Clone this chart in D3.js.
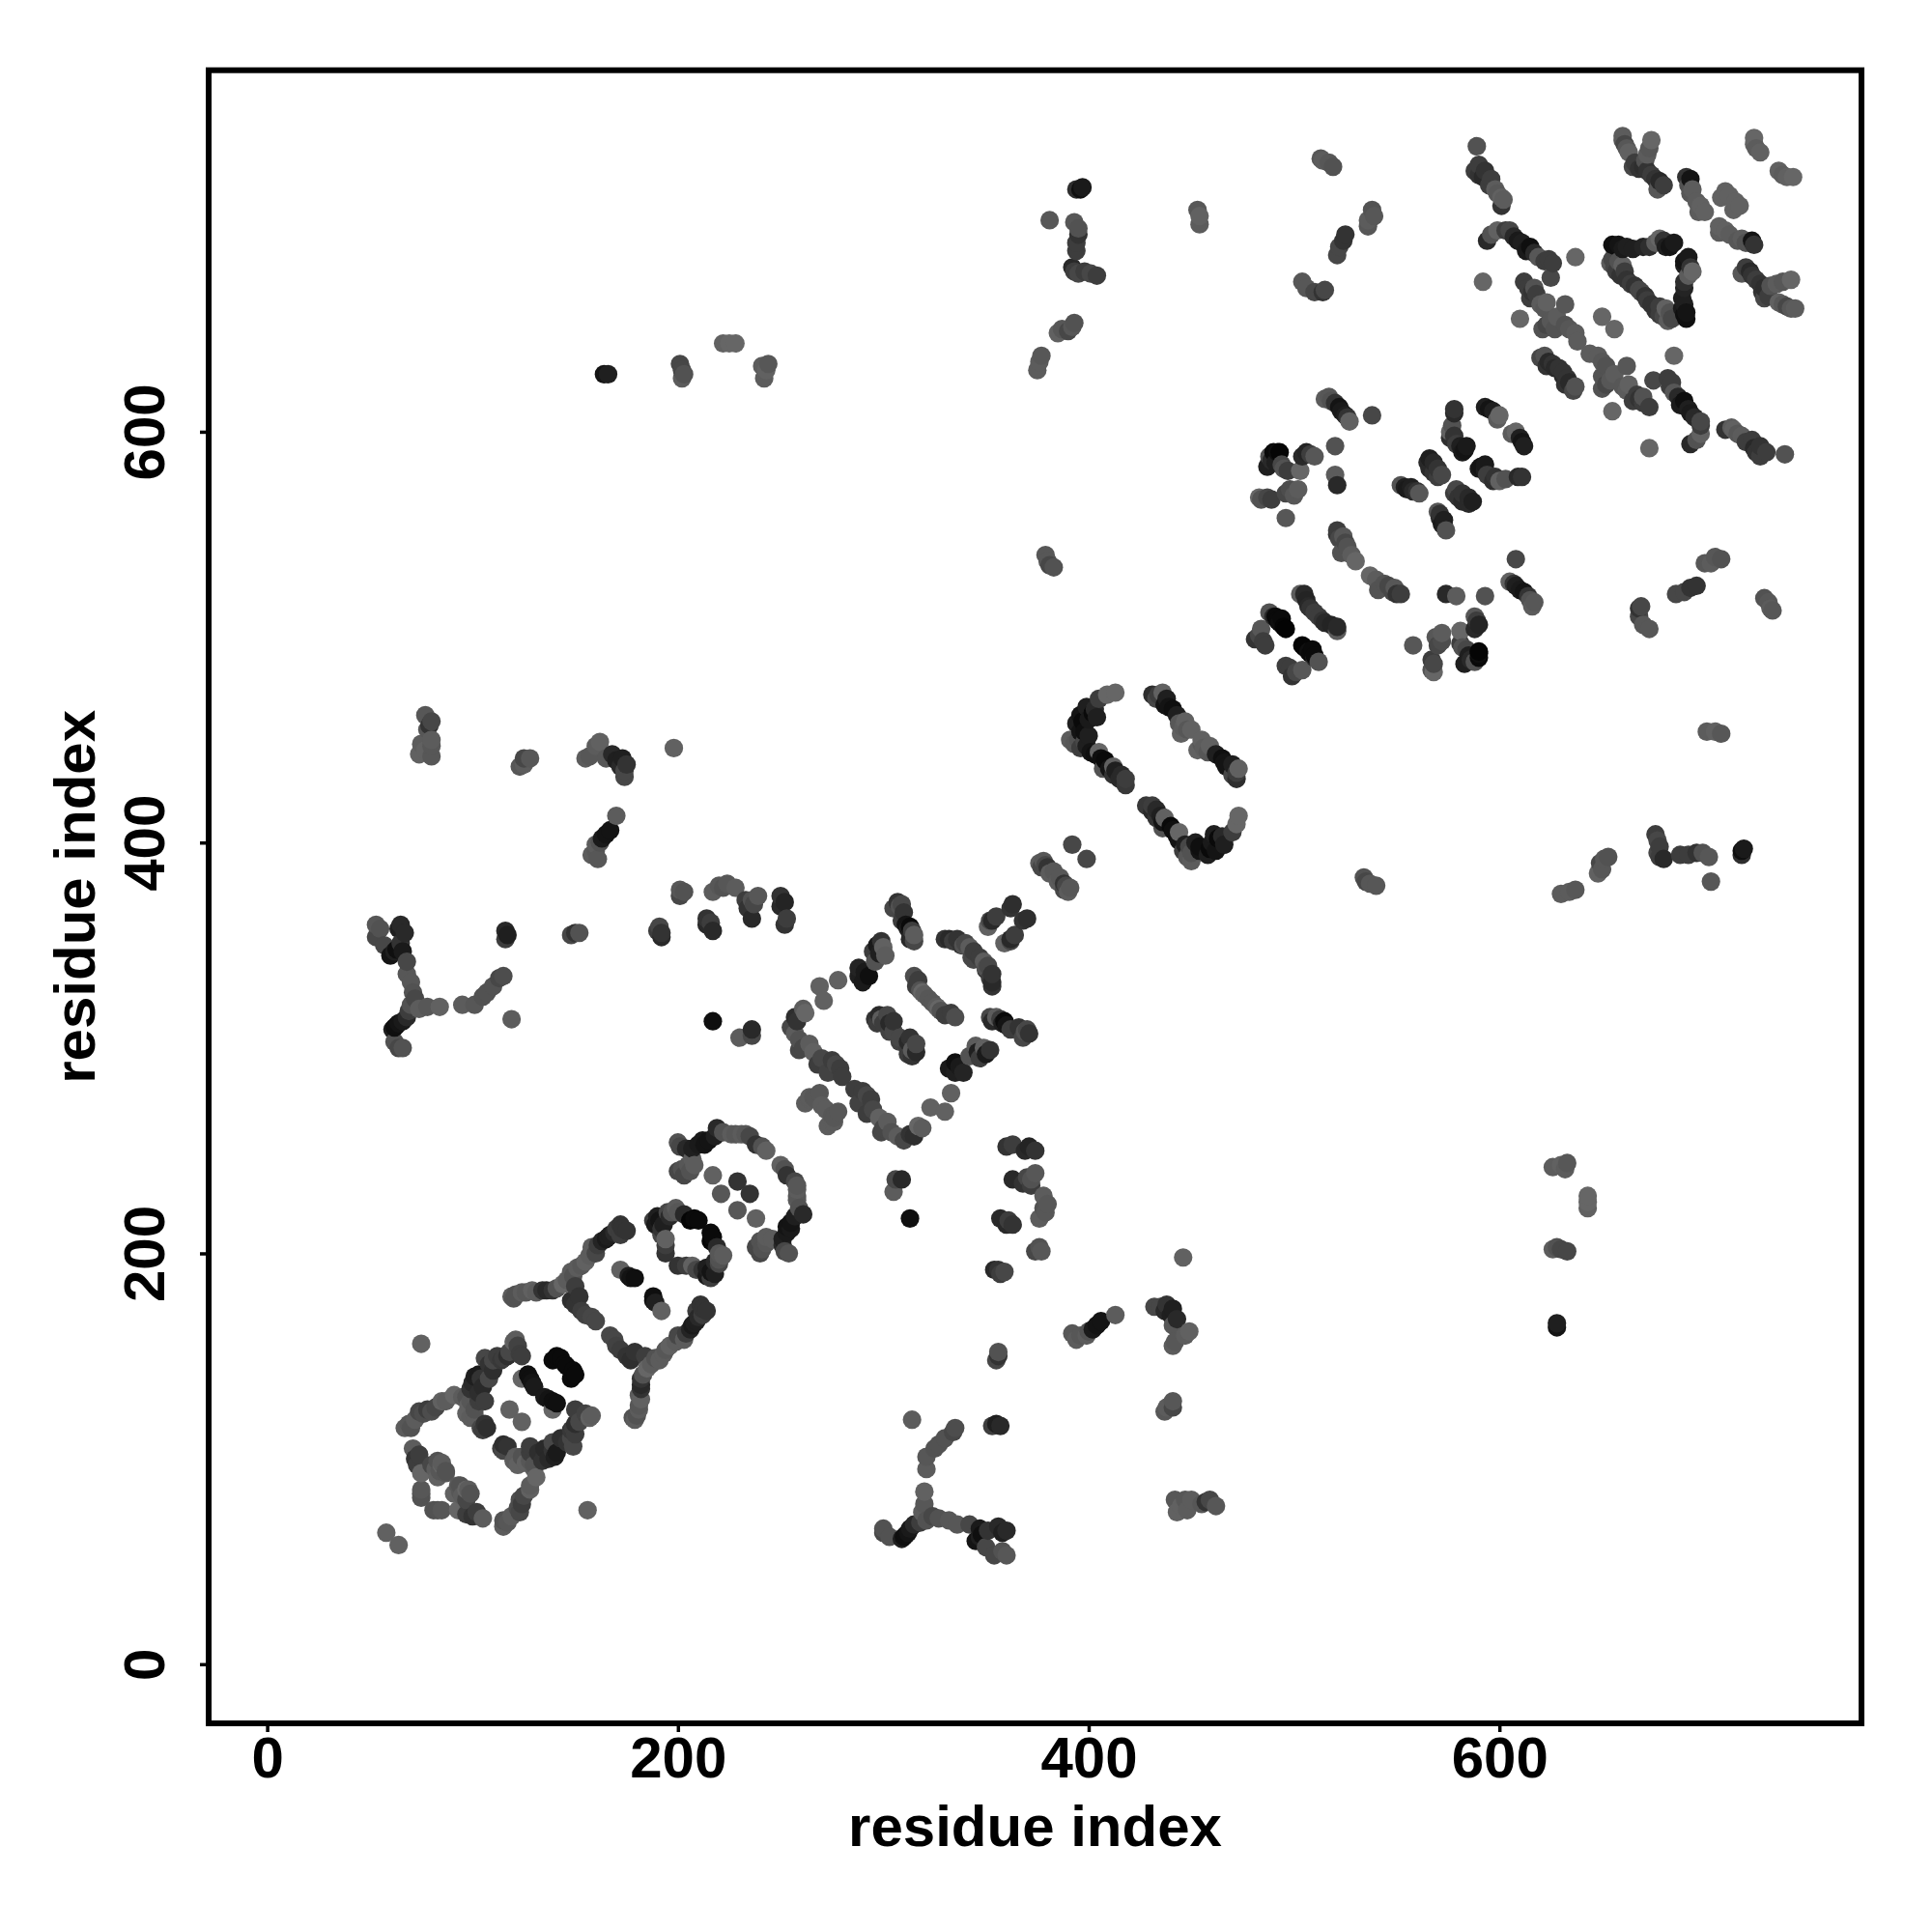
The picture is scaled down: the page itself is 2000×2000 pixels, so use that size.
<!DOCTYPE html>
<html>
<head>
<meta charset="utf-8">
<script src="https://cdn.jsdelivr.net/npm/d3@7/dist/d3.min.js"></script>
<style>html,body{margin:0;padding:0;background:#fff}svg{display:block}</style>
</head>
<body>
<div id="chart"></div>
<script>
// Each contact: [residue i, residue j, level]. Level 0 = darkest, 100 = lightest. The map is symmetric.
const axisTicks = [0, 200, 400, 600];
const axisTitle = "residue index";
const clusterA = [[67,115,90],[69,117,85],[72,119,90],[74,123,70],[78,124,60],[82,125,70],[85,128,95],[91,131,100],[97,130,80],[100,137,40],[104,139,50],[108,139,70],[106,149,70],[115,149,60],[120,157,95],[123,151,60],[124,150,60],[114,148,55],[98,126,95],[101,124,80],[97,122,95],[103,132,45],[110,143,45],[117,150,45],[75,156,95],
[70,115,80],[76,122,75],[80,123,75],[87,128,90],[95,130,90],[99,134,50],[101,140,30],[103,141,25],[105,135,40],[108,146,50],[110,148,70],[112,150,60],[118,152,70],[122,155,65],[121,158,90],[99,128,85],[99,120,90],[103,128,60],[101,121,90],[106,128,60]];
const clusterB = [[71,105,90],[72,100,50],[75,93,100],[82,95,90],[85,98,90],[87,94,80],[75,83,80],[75,81,80],[75,85,85],[93,87,85],[97,85,100],[91,83,95],[104,115,70],[107,115,45],[118,124,95],[129,137,20],[128,139,15],[124,139,100],[143,149,10],[139,148,10],[58,64,95],
[74,102,60],[73,97,60],[84,94,85],[83,99,80],[80,97,70],[105,114,60],[106,117,50],[127,141,15],[130,135,25],[141,150,10],[145,146,10]];
const clusterC = [[119,179,90],[120,178,80],[124,181,90],[129,182,95],[136,182,40],[139,182,50],[144,185,100],[148,191,90],[151,193,90],[155,196,95],[157,199,90],[158,203,90],[163,206,35],[165,207,25],[167,209,30],[170,212,60],[172,214,50],[175,211,50],[152,179,50],[153,172,60],[158,169,70],[150,184,60],[148,177,45],[172,192,95],[176,189,30],[179,188,15],
[121,180,80],[126,181,85],[131,181,90],[134,182,50],[141,183,80],[146,187,90],[149,189,80],[153,194,85],[160,200,70],[161,204,60],[166,208,30],[169,210,40],[172,209,60],[173,212,50],[177,188,20],[150,175,50],[155,170,65],[160,167,70]];
const clusterD = [[200,254,80],[207,251,30],[210,253,25],[213,253,20],[215,255,20],[218,257,30],[219,261,40],[226,258,90],[231,258,90],[235,257,70],[238,253,50],[243,250,95],[202,241,80],[205,243,85],[207,246,90],[203,238,70],[217,238,95],[221,229,85],[229,235,50],[189,214,25],[191,216,20],[195,220,70],[197,220,80],[200,220,85],[206,216,5],[210,216,10],[194,207,95],[194,200,50],[192,212,50],[264,276,90],[266,276,85],
[201,252,70],[204,251,40],[212,255,25],[222,259,80],[228,258,85],[233,258,85],[241,252,80],[200,240,70],[208,243,90],[206,240,80],[190,218,30],[193,214,30],[188,216,60],[192,209,70],[194,204,60],[199,222,90],[203,219,40],[208,217,10],[196,218,40]];
const clusterE = [[257,315,45],[262,317,100],[261,319,90],[271,323,95],[269,330,95],[278,333,95],[288,335,30],[290,332,25],[293,335,15],[296,342,80],[300,349,95],[297,350,25],[308,369,80],[310,366,50],[313,359,10],[315,355,90],[314,357,60],[257,307,90],[259,299,70],[266,298,95],[268,292,60],[277,292,70],[280,286,60],[275,294,60],[296,314,50],[299,314,90],[303,312,40],[302,316,70],[315,335,75],[316,330,60],[319,327,100],[320,326,90],[264,275,90],[267,275,85],[332,353,40],[336,353,50],[339,350,80],[342,349,90],[353,362,40],[351,359,95],[363,370,45],[378,391,85],[380,388,50],[379,389,70],[392,399,70],
[288,339,35],[291,337,25],[295,347,60],[298,346,30],[299,352,50],[301,345,90],[307,371,50],[309,362,60],[311,360,20],[312,358,30],[313,353,40],[315,352,70],[255,310,70],[258,313,50],[259,304,80],[261,300,70],[264,302,90],[270,295,70],[273,288,65],[279,290,60],[262,273,90],[269,278,85],[270,272,90],[297,312,60],[298,316,40],[300,312,60],[305,313,50],[303,308,65],[305,308,70],[317,333,60],[318,328,80],[322,324,85],[330,353,50],[334,352,60],[338,350,50],[340,351,70],[344,347,60],[343,344,70],[305,368,70],[309,370,70],[352,362,70],[355,364,60],[362,368,50],[376,390,90],[377,388,70],[383,386,85],[381,385,90]];
const clusterF = [[413,473,100],[409,472,100],[405,470,60],[399,466,30],[402,463,10],[397,459,10],[394,458,30],[396,454,20],[391,450,90],[398,449,70],[401,444,20],[405,444,100],[408,440,10],[412,437,95],[416,433,40],[418,428,55],[403,465,40],[395,450,80],[407,436,80],[412,433,50],[436,473,95],[431,472,45],[437,467,20],[441,465,15],[447,459,95],[445,453,95],[446,456,90],[450,455,95],
[396,462,20],[400,460,25],[404,461,30],[398,454,15],[400,452,30],[393,448,85],[396,446,60],[399,447,30],[403,443,15],[406,441,15],[410,436,20],[413,435,30],[415,431,40],[418,431,60],[434,472,60],[433,470,70],[439,466,20],[443,462,30],[444,458,85],[448,455,85],[438,470,30]];
const clusterG = [[493,590,5],[492,590,15],[488,588,80],[487,583,30],[495,582,80],[503,581,100],[506,590,35],[510,588,85],[520,593,80],[520,579,90],[521,574,40],[515,616,90],[518,615,80],[522,612,20],[525,608,30],[527,605,95],[538,608,70],[483,568,100],[487,568,70],[496,570,70],[502,572,90],[496,558,85],[521,552,60],[521,550,50],[524,549,85],[526,544,80],[523,541,80],[530,537,100],
[490,590,10],[489,586,40],[491,585,30],[494,584,70],[497,581,60],[504,588,40],[508,589,60],[517,617,85],[520,614,50],[523,610,25],[526,607,50],[484,567,80],[489,567,60],[498,572,75],[500,569,85],[522,548,70],[525,546,70],[528,540,90]];
const clusterH = [[552,574,80],[554,573,30],[557,573,30],[560,571,50],[561,570,85],[565,585,40],[568,585,40],[566,582,40],[572,579,70],[578,611,50],[576,600,95],[576,597,45],[579,594,60],[581,593,30],[583,591,20],[593,612,30],[595,611,20],[600,608,100],[503,521,90],[507,515,40],[508,514,50],[491,510,10],[493,507,15],[496,504,3],[484,504,85],[486,496,60],[481,499,50],[488,512,80],
[555,572,25],[558,571,40],[566,587,30],[570,582,50],[570,578,60],[568,580,50],[578,609,40],[577,603,80],[578,598,50],[582,590,25],[584,593,25],[597,610,30],[599,606,90],[506,518,35],[505,521,40],[510,512,60],[492,508,10],[494,509,10],[495,505,5],[483,501,70],[485,498,60],[490,510,40]];
const clusterI = [[589,739,80],[588,727,60],[590,725,50],[592,724,40],[595,720,60],[598,718,90],[601,714,95],[601,710,50],[594,693,40],[599,698,95],[605,698,70],[611,692,30],[615,690,15],[619,685,85],[624,684,60],[625,675,70],[637,685,100],[592,673,100],[612,673,60],[617,670,80],[615,665,60],[623,663,95],[632,662,85],[610,655,100],[625,654,85],[621,650,80],[632,652,80],[637,648,90],[638,644,90],[650,656,100],[622,637,80],[624,634,40],[626,633,50],
[590,730,60],[593,727,50],[596,723,60],[599,716,85],[602,713,90],[596,696,80],[603,698,60],[607,695,40],[609,693,25],[613,688,25],[617,687,40],[622,683,60],[626,682,60],[614,670,60],[616,668,50],[618,667,60],[620,662,90],[622,660,85],[628,656,90],[623,652,70],[627,650,80],[634,650,85],[620,636,70],[623,632,50],[627,631,40],[629,631,50]];
const clusterJ = [[655,691,15],[658,691,20],[662,690,30],[673,690,45],[678,694,100],[683,690,20],[654,682,90],[660,681,95],[656,680,70],[659,676,50],[664,672,60],[660,744,90],[661,740,70],[663,736,95],[665,729,70],[674,742,100],[671,732,80],[670,729,45],[674,725,60],[678,722,40],[677,718,85],[691,724,50],[693,723,20],[694,718,90],[698,710,95],[697,707,90],[700,707,95],[710,717,95],[724,743,100],[724,740,95],[727,736,95],
[657,690,15],[660,689,25],[665,689,30],[670,690,35],[676,692,90],[680,693,50],[681,690,30],[685,692,25],[655,684,70],[657,678,60],[658,683,80],[661,678,60],[662,674,50],[666,671,50],[668,669,70],[660,742,85],[662,738,85],[666,731,60],[668,728,50],[673,738,85],[672,735,90],[672,727,50],[676,723,50],[680,720,60],[692,720,80],[693,716,85],[696,712,90],[712,715,95],[708,714,95],[725,738,90]];
const offYShape = [[53,360,85],[53,354,70],[65,360,40],[65,351,50],[63,348,15],[68,336,85],[71,327,80],[63,311,15],[61,309,30],[64,300,70],[74,319,90],[84,320,95],[95,321,90],[101,321,85],[107,327,80],[113,334,70],[119,314,90],[70,321,80],[68,315,40],[66,313,25],
[55,358,80],[57,350,70],[60,345,20],[62,347,30],[64,358,30],[67,356,40],[66,347,25],[68,342,70],[70,332,85],[72,324,70],[62,310,15],[64,312,20],[69,318,60],[62,303,80],[66,300,80],[78,320,85],[105,325,80],[110,330,80],[115,335,75]];
const offRowLeft = [[116,357,40],[116,353,60],[150,356,50],[191,359,70],[192,356,50],[201,377,85],[201,374,70],[214,363,50],[217,357,40],[217,376,90],[224,380,85],[228,378,90],[236,363,40],[233,372,60],[239,374,85],[252,371,35],[252,360,50],[217,313,15],[230,305,90],[236,306,70],[236,309,40],
[117,355,30],[148,355,70],[152,356,80],[190,357,60],[192,354,40],[203,376,80],[214,360,40],[216,361,60],[220,379,85],[222,378,80],[234,368,50],[237,370,70],[236,372,80],[250,369,40],[253,363,60],[250,374,50]];
const offRowMid = [[77,462,85],[80,459,70],[80,450,90],[77,445,95],[80,442,85],[74,443,95],[125,441,70],[125,438,90],[128,441,85],[155,441,90],[162,449,95],[168,443,40],[173,441,30],[174,435,70],[198,446,95],[170,413,90],[165,404,20],[160,399,90],[161,392,85],
[78,455,85],[75,448,90],[80,447,85],[79,457,50],[123,437,85],[157,442,85],[160,447,90],[165,441,85],[170,440,30],[172,437,40],[175,438,50],[174,432,70],[163,402,25],[167,406,20],[160,396,85],[158,394,90],[162,400,80]];
const offTop = [[164,628,20],[202,630,70],[202,626,90],[225,643,100],[243,630,95],[242,626,90],[376,634,90],[396,718,15],[394,718,45],[381,703,85],[395,699,80],[394,692,60],[393,678,60],[401,677,70],[385,648,95],[392,651,85],[380,537,85],[381,535,70],[454,705,95],[454,701,90],[514,732,90],[517,731,85],[506,670,85],[515,669,70],[522,690,70],[525,696,50],[536,703,90],[539,705,85],
[166,628,30],[201,633,70],[203,628,80],[222,643,95],[228,643,100],[241,632,90],[244,633,85],[375,630,90],[377,637,85],[397,719,25],[393,702,85],[395,696,50],[394,688,60],[392,680,40],[395,677,70],[398,678,60],[404,676,60],[387,650,85],[390,649,70],[393,653,80],[379,540,85],[383,534,80],[453,708,85],[514,668,50],[510,668,70],[504,673,85],[513,733,85],[519,729,80],[536,700,85],[538,708,80],[524,693,50],[521,686,70]];

const contacts = [clusterA,clusterB,clusterC,clusterD,clusterE,clusterF,clusterG,clusterH,clusterI,clusterJ,offYShape,offRowLeft,offRowMid,offTop].flat();
const points = contacts.flatMap(([i,j,level]) => [{x:i,y:j,level},{x:j,y:i,level}])
  .sort((a,b) => d3.ascending(a.x,b.x) || d3.ascending(a.y,b.y));

const svg = d3.select("#chart").append("svg").attr("width",2000).attr("height",2000);
svg.append("rect").attr("width",2000).attr("height",2000).attr("fill","#fff");

const plotLeft=216, plotRight=1927, plotTop=72.7, plotBottom=1784;
const xScale = d3.scaleLinear().domain([-28.5,776.3]).range([plotLeft,plotRight]);
const yScale = d3.scaleLinear().domain([-28.8,776]).range([plotBottom,plotTop]);
const shade = d3.scaleLinear().domain([0,100]).range(["#000000","#666666"]);

svg.append("g").selectAll("circle").data(points).join("circle")
  .attr("cx",d=>xScale(d.x)).attr("cy",d=>yScale(d.y)).attr("r",9.6).attr("fill",d=>shade(d.level));

svg.append("rect").attr("x",plotLeft).attr("y",plotTop).attr("width",plotRight-plotLeft).attr("height",plotBottom-plotTop)
  .attr("fill","none").attr("stroke","#000").attr("stroke-width",6);

const font = "'Liberation Sans', Arial, sans-serif";
const gx = svg.append("g").attr("transform",`translate(0,${plotBottom})`)
  .call(d3.axisBottom(xScale).tickValues(axisTicks).tickSize(9).tickPadding(0));
const gy = svg.append("g").attr("transform",`translate(${plotLeft},0)`)
  .call(d3.axisLeft(yScale).tickValues(axisTicks).tickSize(9).tickPadding(0));
[gx,gy].forEach(g=>{
  g.select(".domain").remove();
  g.selectAll(".tick line").attr("stroke","#000").attr("stroke-width",3.5);
  g.selectAll(".tick text").attr("fill","#000").attr("font-family",font).attr("font-weight","bold").attr("font-size",60);
});
gx.selectAll(".tick text").attr("dy",null).attr("y",56);
gy.selectAll(".tick text").attr("dy",null).attr("x",null).attr("text-anchor","middle")
  .attr("transform","translate(-46,0) rotate(-90)");

svg.append("text").attr("x",(plotLeft+plotRight)/2).attr("y",1911).attr("text-anchor","middle")
  .attr("font-family",font).attr("font-weight","bold").attr("font-size",60).attr("fill","#000").text(axisTitle);
svg.append("text").attr("transform",`translate(98,${(plotTop+plotBottom)/2}) rotate(-90)`).attr("text-anchor","middle")
  .attr("font-family",font).attr("font-weight","bold").attr("font-size",60).attr("fill","#000").text(axisTitle);
</script>
</body>
</html>
